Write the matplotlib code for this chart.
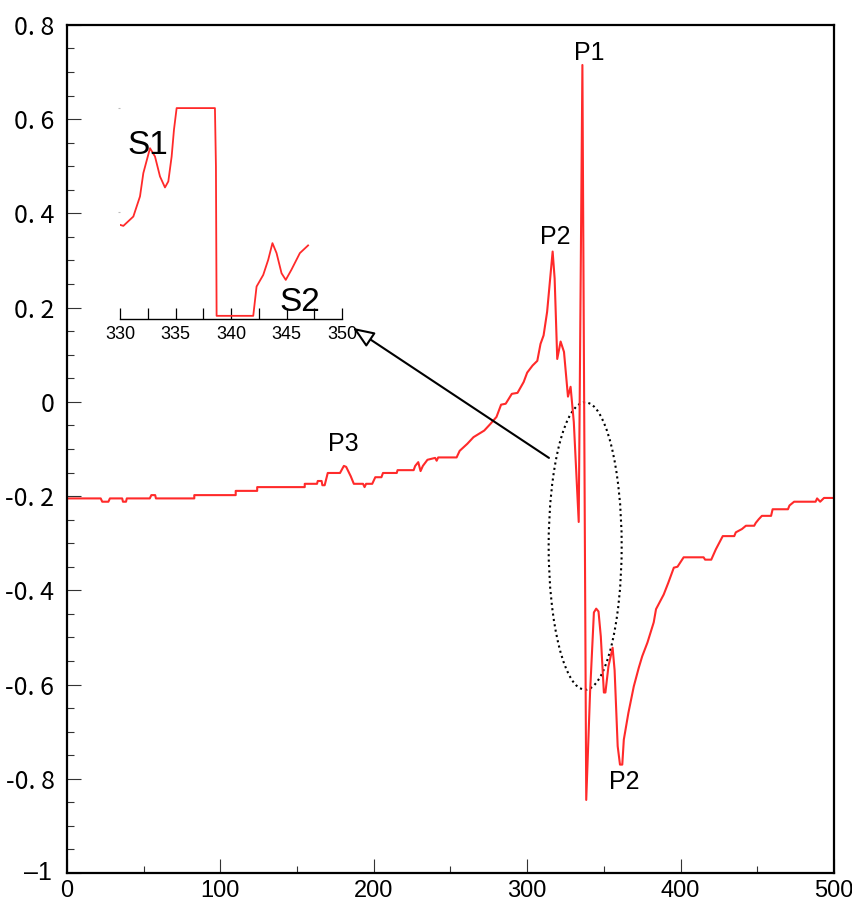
import numpy as np
import matplotlib
matplotlib.use("Agg")
import matplotlib.pyplot as plt
from matplotlib.patches import Ellipse
from matplotlib.ticker import MultipleLocator

# main trace
x_main = [0, 22, 23, 27, 28, 36, 36.5, 38.5, 39, 54, 55, 57.5, 58, 83, 83, 110, 110,
          124, 124, 155, 155, 163, 163.5, 166, 166.5, 168, 170, 178, 180.5, 182, 185,
          187, 193, 194, 195, 199, 201, 205, 206, 215, 215.5, 226, 227, 229, 230.5,
          232, 235, 240, 241, 242, 254, 256, 261, 265, 272, 276, 280, 283, 286, 290,
          293.7, 297.7, 300, 303.5, 306.6, 308.7, 310.7, 313, 315, 316.6, 317.9,
          319.6, 321.8, 324, 326.6, 328.3, 330.4, 333.6, 336, 338.5, 341, 343.5, 345,
          346.5, 348, 350, 351, 353, 355.7, 357, 359, 360.5, 362, 363, 366, 369.5,
          372.7, 375, 378.4, 382.5, 384, 389, 392, 395.6, 398, 402, 415, 416, 420,
          423, 427.5, 435, 436, 440, 442.6, 448, 449, 451, 453, 459, 460, 470, 471,
          474, 488, 489, 491, 493.5, 500]
y_main = [-0.205, -0.205, -0.212, -0.212, -0.205, -0.205, -0.212, -0.212, -0.205,
          -0.205, -0.198, -0.198, -0.205, -0.205, -0.198, -0.198, -0.189, -0.189,
          -0.181, -0.181, -0.174, -0.174, -0.168, -0.168, -0.177, -0.177, -0.151,
          -0.151, -0.136, -0.138, -0.158, -0.174, -0.174, -0.181, -0.174, -0.174,
          -0.160, -0.160, -0.151, -0.151, -0.145, -0.145, -0.136, -0.128, -0.147,
          -0.136, -0.123, -0.119, -0.125, -0.118, -0.118, -0.104, -0.089, -0.075,
          -0.061, -0.047, -0.032, -0.006, -0.004, 0.017, 0.019, 0.042, 0.062, 0.077,
          0.087, 0.123, 0.141, 0.191, 0.262, 0.319, 0.262, 0.091, 0.128, 0.106,
          0.011, 0.032, -0.043, -0.255, 0.715, -0.845, -0.617, -0.447, -0.439,
          -0.445, -0.498, -0.617, -0.617, -0.561, -0.522, -0.570, -0.731, -0.770,
          -0.770, -0.717, -0.660, -0.604, -0.565, -0.540, -0.511, -0.468, -0.440,
          -0.409, -0.384, -0.352, -0.350, -0.330, -0.330, -0.335, -0.335, -0.313,
          -0.285, -0.285, -0.277, -0.270, -0.263, -0.263, -0.257, -0.249, -0.242,
          -0.242, -0.228, -0.228, -0.220, -0.212, -0.212, -0.205, -0.212, -0.204,
          -0.204]

# inset trace (arbitrary units, clipped at 0 and 1)
x_ins = [330, 330.3, 331.2, 331.8, 332.1, 332.7, 333.15, 333.6, 334.05, 334.35,
         334.65, 334.86, 335.1, 338.55, 338.64, 338.7, 342.0, 342.3, 342.9, 343.35,
         343.73, 344.1, 344.55, 344.93, 345.44, 346.2, 346.94]
y_ins = [0.438, 0.433, 0.478, 0.575, 0.687, 0.807, 0.767, 0.671, 0.618, 0.647,
         0.767, 0.896, 1.0, 1.0, 0.719, 0.0, 0.0, 0.141, 0.197, 0.27, 0.35, 0.302,
         0.205, 0.173, 0.222, 0.302, 0.339]

yticks = [0.8, 0.6, 0.4, 0.2, 0, -0.2, -0.4, -0.6, -0.8, -1]
ylabels = ["0. 8", "0. 6", "0. 4", "0. 2", "0", "-0. 2", "-0. 4", "-0. 6", "-0. 8", ""]
xticks = [0, 100, 200, 300, 400, 500]
xticks_ins = [330, 335, 340, 345, 350]

peaks = [("P1", 340.3, 0.741), ("P2", 318.1, 0.35), ("P3", 179.9, -0.089), ("P2", 363.4, -0.807)]
ins_labels = [("S1", 332.5, 0.822), ("S2", 346.2, 0.0625)]

red = "#ff2a2a"
sans = ["Liberation Sans", "DejaVu Sans"]
gothic = ["Noto Sans CJK JP", "DejaVu Sans"]

fig = plt.figure(figsize=(8.53, 9.10), dpi=100)
ax = fig.add_axes([0.0785, 0.0407, 0.8992, 0.9319])
ax.plot(x_main, y_main, color=red, lw=1.5)
ax.set_xlim(0, 500)
ax.set_ylim(-1, 0.8)
ax.set_xticks(xticks)
ax.set_xticklabels([str(v) for v in xticks], fontfamily=sans, fontsize=17)
ax.set_yticks(yticks)
ax.set_yticklabels(ylabels, fontfamily=gothic, fontsize=18)
ax.xaxis.set_minor_locator(MultipleLocator(50))
ax.yaxis.set_minor_locator(MultipleLocator(0.05))
ax.tick_params(which="both", direction="in", width=0.8, color="#333333")
ax.tick_params(which="major", length=10)
ax.tick_params(which="minor", length=5)
ax.tick_params(axis="x", pad=5)
ax.tick_params(axis="y", pad=9)
for s in ax.spines.values():
    s.set_linewidth(1.6)
# "-1" label in the plain sans face
ax.text(-0.02, -1, "\u20131", transform=ax.get_yaxis_transform(), ha="right",
        va="center", fontfamily=sans, fontsize=18)

for name, px, py in peaks:
    ax.text(px, py, name, ha="center", va="center", fontfamily=sans, fontsize=18)

ax.add_patch(Ellipse((337.8, -0.306), 47.6, 0.61, fill=False, ec="black",
                     lw=1.5, ls=(0, (1, 1.6))))
ax.annotate("", xy=(186.4, 0.157), xytext=(314.2, -0.119),
            arrowprops=dict(arrowstyle="-|>,head_length=1.0,head_width=0.4",
                            fc="white", ec="black", lw=1.5, shrinkA=0, shrinkB=0,
                            mutation_scale=13))

# inset
ins = fig.add_axes([0.1407, 0.6495, 0.2603, 0.234])
ins.plot(x_ins, y_ins, color=red, lw=1.3)
ins.set_xlim(330, 350)
ins.set_ylim(-0.015, 1.01)
ins.set_xticks(xticks_ins)
ins.set_xticklabels([str(v) for v in xticks_ins], fontfamily=sans, fontsize=13)
ins.xaxis.set_minor_locator(MultipleLocator(2.5))
ins.set_yticks([0.5, 1.0])
ins.set_yticklabels([])
ins.tick_params(axis="y", length=1.5, color="#bbbbbb", width=0.8)
ins.tick_params(axis="x", which="both", direction="in", width=0.9)
ins.tick_params(axis="x", which="major", length=8, pad=5)
ins.tick_params(axis="x", which="minor", length=8)
for k in ["top", "right", "left"]:
    ins.spines[k].set_visible(False)
ins.spines["bottom"].set_linewidth(1.0)
ins.patch.set_alpha(0)
for name, px, py in ins_labels:
    ins.text(px, py, name, ha="center", va="center", fontfamily=sans, fontsize=24)

fig.savefig("out.png", dpi=100)
